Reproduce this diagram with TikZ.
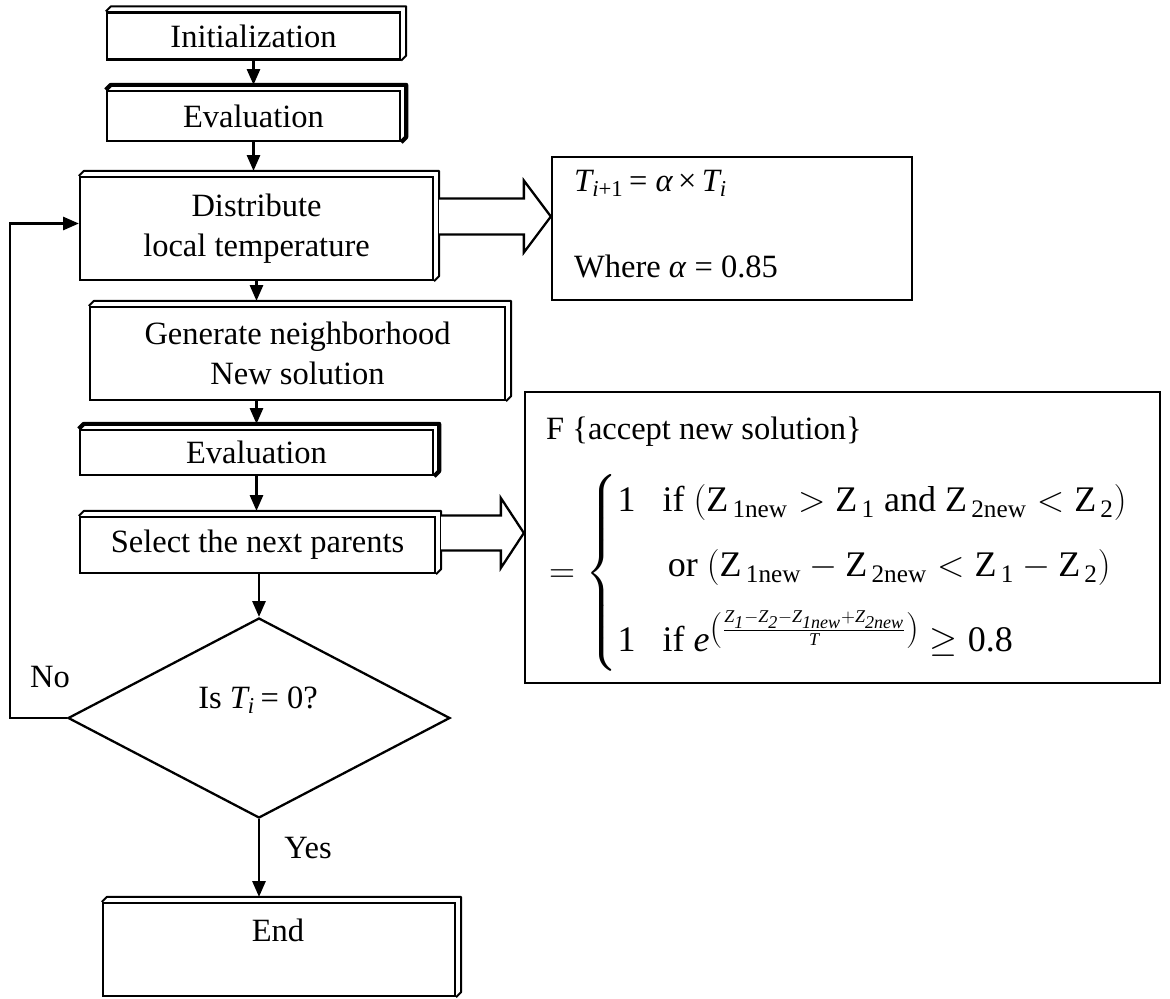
\RequirePackage{fix-cm}
\documentclass[tikz,border=0pt]{standalone}
\usepackage{amsmath}
\usepackage{fontspec}
\setmainfont{Liberation Serif}
\usetikzlibrary{arrows.meta,calc,shapes.geometric}

% upright Z with upright subscript, italic Z with italic subscript
\newcommand{\rZ}[1]{\text{Z}_{\,\text{#1}}}
\newcommand{\iZ}[1]{\textit{Z}_{\textit{#1}}}
% raised edge on the top and right side of a process box
\newcommand{\bevel}[2][]{%
  \draw[bev,#1] (#2.north west) -- ++(5,-5) -- ($(#2.north east)+(5,-5)$)
    -- ($(#2.south east)+(5,-5)$) -- (#2.south east);}

\begin{document}
\begin{tikzpicture}[x=0.02cm,y=-0.02cm,
  every node/.style={font=\fontsize{18.5}{23}\selectfont},
  wh/.style 2 args={minimum width=#1*0.02cm,minimum height=#2*0.02cm},
  stepbox/.style={draw,line width=1.3pt,fill=white,inner sep=0pt,align=center},
  bev/.style={line width=1.1pt,line join=round},
  heavy/.style={line width=2.4pt},
  flow/.style={line width=1.3pt,-{Triangle[length=9pt,width=7.5pt]}},
  blockarrow/.style={line width=1.3pt,fill=white,line join=miter},
  decision/.style={draw,diamond,line width=1.3pt,inner sep=0pt,aspect=1.91},
  textbox/.style={draw,line width=1.3pt,inner sep=0pt}]
\useasboundingbox (0,0) rectangle (1170,998);

% main column
\node[stepbox,wh={293}{47}] (init) at (253.5,36) {Initialization};
\bevel{init}
\node[stepbox,wh={293}{50}] (eval1) at (253.5,116) {Evaluation};
\bevel[heavy]{eval1}
\node[stepbox,wh={353}{103}] (dist) at (256.5,228.5) {Distribute\\local temperature};
\bevel{dist}
\node[stepbox,wh={415}{93}] (gen) at (297.5,353.5) {Generate neighborhood\\New solution};
\bevel{gen}
\node[stepbox,wh={353}{45}] (eval2) at (256.5,452.5) {Evaluation};
\bevel[heavy]{eval2}
\node[stepbox,wh={355}{56}] (select) at (257.5,545) {Select the next parents};
\bevel{select}
\node[decision,wh={382}{200}] (dec) at (259,718) {};
\node (dectext) at (258,700) {Is $\textit{T}_{\textit{i}}$\,= 0?};
\node[stepbox,wh={352}{93}] (end) at (279,949.5) {};
\bevel{end}
\node[anchor=center] (endtext) at (278,930) {End};

% side boxes
\node[textbox,wh={360}{143}] (tbox) at (732,228.5) {};
\node[anchor=west] (trule) at (568,183)
  {$\textit{T}_{\textit{i}\text{+1}}\text{\,= }\textit{α}\text{\,×\,}\textit{T}_{\textit{i}}$};
\node[anchor=west] (talpha) at (568,266) {Where \textit{α} = 0.85};

\node[textbox,wh={635}{291}] (fbox) at (842.5,537.5) {};
\node[anchor=west] (ftitle) at (540,432) {F \{accept new solution\}};
\node[anchor=west,font=\fontsize{20.5}{25}\selectfont] (fbody) at (543,573)
  {$=\left\{\begin{array}{@{}l@{}}
   \text{1}\hspace{0.75em}\text{if }(\rZ{1new}>\rZ{1}\text{ and }\rZ{2new}<\rZ{2})\\[12pt]
   \phantom{\text{1}}\hspace{0.9em}\text{or }(\rZ{1new}-\rZ{2new}<\rZ{1}-\rZ{2})\\[12pt]
   \text{1}\hspace{0.75em}\text{if }\textit{e}^{\left(\frac{\iZ{1}-\iZ{2}-\iZ{1new}+\iZ{2new}}{\textit{T}}\right)}\geq\text{0.8}
  \end{array}\right.$};

% connectors
\draw[flow] (init.south) -- ($(init.south |- eval1.north)+(0,-5)$);
\draw[flow] (eval1.south) -- ($(eval1.south |- dist.north)+(0,-5)$);
\draw[flow] (dist.south) -- ($(dist.south |- gen.north)+(0,-5)$);
\draw[flow] (eval2.north |- gen.south) -- ($(eval2.north)+(0,-5)$);
\draw[flow] (eval2.south) -- ($(eval2.south |- select.north)+(0,-5)$);
\draw[flow] (dec.north |- select.south) -- (dec.north);
\draw[flow] (dec.south) -- ($(dec.south |- end.north)+(0,-5)$);
\draw[flow] (dec.west) -- (10,718) |- ($(dist.west)+(0,-5)$);
\node (nolabel) at (50,677) {No};
\node (yeslabel) at (308,848) {Yes};

% hollow arrows into the side boxes
\coordinate (a1s) at ($(dist.east)+(5,-12)$);
\coordinate (a1t) at ($(tbox.west)+(0,-12)$);
\draw[blockarrow] ($(a1s)+(0,-18)$) -- ($(a1t)+(-27,-18)$) -- ($(a1t)+(-27,-36)$)
  -- (a1t) -- ($(a1t)+(-27,36)$) -- ($(a1t)+(-27,18)$) -- ($(a1s)+(0,18)$);
\coordinate (a2s) at ($(select.east)+(5,-12)$);
\coordinate (a2t) at ($(fbox.west)+(0,-4.5)$);
\draw[blockarrow] ($(a2s)+(0,-17.5)$) -- ($(a2t)+(-23,-17.5)$) -- ($(a2t)+(-23,-35)$)
  -- (a2t) -- ($(a2t)+(-23,35)$) -- ($(a2t)+(-23,17.5)$) -- ($(a2s)+(0,17.5)$);
\end{tikzpicture}
\end{document}
